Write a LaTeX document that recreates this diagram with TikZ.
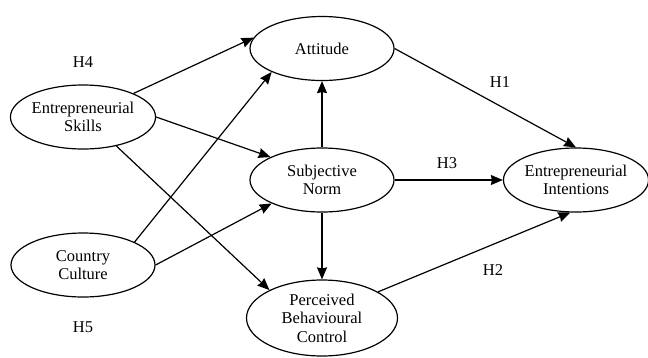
\documentclass[tikz,border=0pt]{standalone}
\usepackage{fontspec}
\setmainfont{Liberation Serif}
\usetikzlibrary{shapes.geometric,arrows.meta}
\begin{document}
\begin{tikzpicture}[x=1pt,y=-1pt,
  var/.style={draw,ellipse,line width=1.2pt,inner sep=0pt,minimum width=144pt,minimum height=64pt,align=center,font=\fontsize{16.5}{18.5}\selectfont},
  lab/.style={font=\fontsize{16.5}{18.5}\selectfont},
  arr/.style={line width=1.2pt,-{Stealth[length=12pt,width=10pt,inset=1pt]}}]
\useasboundingbox (0,0) rectangle (648,357);
\node[var] (att) at (322,48.5) {Attitude};
\node[var] (es) at (83,117) {Entrepreneurial\\Skills};
\node[var] (sn) at (322,180) {Subjective\\Norm};
\node[var] (cc) at (83,265) {Country\\Culture};
\node[var,minimum width=151pt,minimum height=76pt] (pbc) at (322,318) {Perceived\\Behavioural\\Control};
\node[var,minimum width=142pt] (ei) at (576,180) {Entrepreneurial\\Intentions};
\node[lab] (h4) at (83,62) {H4};
\node[lab] (h5) at (83,327) {H5};
\node[lab] (h1) at (500,82) {H1};
\node[lab] (h3) at (447,163) {H3};
\node[lab] (h2) at (493,270) {H2};
\draw[arr] (es.25) -- (att.171);
\draw[arr] (es.east) -- (sn.156);
\draw[arr] (es.-41) -- (pbc.152);
\draw[arr] (cc.24) -- (att.205);
\draw[arr] (cc.east) -- (sn.205);
\draw[arr] (sn.north) -- (att.south);
\draw[arr] (sn.south) -- (pbc.north);
\draw[arr] (att.east) -- (ei.north);
\draw[arr] (sn.east) -- (ei.west);
\draw[arr] (pbc.25) -- (ei.260);
\end{tikzpicture}
\end{document}
